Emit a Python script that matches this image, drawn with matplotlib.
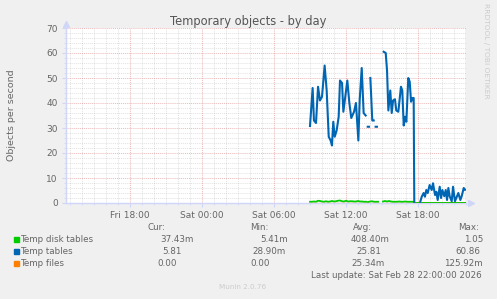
import numpy as np
import matplotlib
matplotlib.use('Agg')
import matplotlib.pyplot as plt
from matplotlib.patches import Rectangle

W, H = 497, 299
nan = np.nan

# hours relative to Sat 00:00
tables_t = [9.00, 9.22, 9.33, 9.50, 9.67, 9.83, 10.00, 10.22, 10.39, 10.56, 10.72, 10.83,
            10.94, 11.06, 11.22, 11.39, 11.50, 11.67, 11.78, 11.94, 12.11, 12.28, 12.44,
            12.67, 12.83, 13.03, 13.14, 13.31, 13.47, 13.64, 13.72, 13.81, 13.92, 13.97,
            14.03, 14.19, 14.31, 14.40, 14.47, 14.58, 14.70, 15.14, 15.31, 15.42, 15.53,
            15.69, 15.81, 15.92, 16.08, 16.19, 16.36, 16.58, 16.69, 16.81, 16.92, 17.03,
            17.19, 17.31, 17.42, 17.53, 17.64, 17.69, 17.80, 18.19, 18.31, 18.47, 18.58,
            18.69, 18.81, 18.97, 19.14, 19.25, 19.42, 19.53, 19.64, 19.81, 19.92, 20.03,
            20.19, 20.31, 20.42, 20.53, 20.64, 20.81, 20.92, 21.08, 21.25, 21.36, 21.53,
            21.64, 21.81, 21.92]
tables_v = [30.8, 46, 33, 32, 46.5, 41, 42.5, 55, 45, 26.5, 25, 23,
            32.5, 26.5, 29, 34.5, 49, 48, 36.5, 42.5, 49, 40, 34,
            36.5, 40, 25, 41, 54, 36, 35, nan, 30.5, 30.5, nan,
            50, 33, 33, nan, 30.5, 30.5, nan, 60.5, 60, 53, 37,
            45, 36, 41, 41.5, 37, 36.5, 46.5, 45, 31, 34.5, 32.5,
            50, 48.5, 40.5, 42, 42, 0, nan, 0.5, 2.5, 4, 2.5,
            5.2, 4, 7.2, 5.2, 7.9, 3.2, 4.5, 1.2, 6.5, 2, 5.2,
            2.7, 5.2, 1.2, 6, 2.7, 0.7, 6.5, 0.7, 2.7, 4, 1.2,
            2.7, 6, 5.3]

disk_t = [9.00, 9.17, 9.33, 9.50, 9.67, 9.83, 10.00, 10.17, 10.33, 10.50, 10.67, 10.83,
          11.00, 11.17, 11.33, 11.50, 11.67, 11.83, 12.00, 12.17, 12.33, 12.50, 12.67,
          12.83, 13.00, 13.17, 13.33, 13.50, 13.67, 13.75, 13.83, 14.00, 14.17, 14.33,
          14.50, 14.67, 14.80, 15.08, 15.25, 15.42, 15.58, 15.75, 15.92, 16.08, 16.25,
          16.42, 16.58, 16.75, 16.92, 17.08, 17.25, 17.42, 17.58, 17.75, 18.00, 19.00,
          20.00, 21.00, 22.00]
disk_v = [0.5, 0.5, 0.6, 0.5, 0.9, 0.8, 0.6, 0.5, 0.7, 0.5, 0.6, 0.8,
          0.6, 0.7, 0.9, 1.0, 0.7, 0.6, 0.9, 0.6, 0.7, 0.7, 0.6,
          0.6, 0.8, 0.6, 0.6, 0.5, 0.5, nan, 0.4, 0.6, 0.7, 0.5,
          0.5, 0.5, nan, 0.6, 0.8, 0.6, 0.8, 0.6, 0.5, 0.5, 0.5,
          0.6, 0.5, 0.5, 0.6, 0.5, 0.5, 0.5, 0.5, 0.05, 0.04, 0.04,
          0.04, 0.04, 0.04]

files_t = [9.0, 14.7, 14.9, 15.1, 22.0]
files_v = [0, 0, nan, 0, 0]

xticks = [-6, 0, 6, 12, 18]
xlabels = ['Fri 18:00', 'Sat 00:00', 'Sat 06:00', 'Sat 12:00', 'Sat 18:00']

names = ['Temp disk tables', 'Temp tables', 'Temp files']
colors = ['#00cc00', '#0066b3', '#ff8000']
cur = ['37.43m', '5.81', '0.00']
mins = ['5.41m', '28.90m', '0.00']
avgs = ['408.40m', '25.81', '25.34m']
maxs = ['1.05', '60.86', '125.92m']

FONT = '#666666'
AXIS = '#cfd6f8'

fig = plt.figure(figsize=(W / 100, H / 100), dpi=100)
fig.patch.set_facecolor('#f0f0f0')


def fx(x):
    return x / W


def fy(y):
    return 1 - y / H


ax = fig.add_axes([fx(66), fy(203), 400 / W, 175 / H])
ax.set_facecolor('white')
ax.set_xlim(-11.333, 22.0)
ax.set_ylim(0, 70)

ax.set_xticks(xticks)
ax.set_xticklabels(xlabels)
ax.set_xticks(np.arange(-11, 23, 1), minor=True)
ax.set_yticks(np.arange(0, 71, 10))
ax.set_yticks(np.arange(0, 71, 2), minor=True)
ax.grid(which='minor', color='#8c8c8c', alpha=0.25, linestyle=(0, (1, 1)), linewidth=0.7)
ax.grid(which='major', color='#e08a8a', alpha=0.6, linestyle=(0, (1, 1)), linewidth=0.7)
ax.set_axisbelow(True)

for s in ['top', 'right']:
    ax.spines[s].set_visible(False)
for s in ['left', 'bottom']:
    ax.spines[s].set_color(AXIS)
    ax.spines[s].set_linewidth(1.0)
ax.tick_params(which='both', colors=AXIS, labelcolor=FONT, labelsize=6.5, direction='out')
ax.tick_params(which='major', length=3, width=0.8)
ax.tick_params(which='minor', length=1.5, width=0.6)
ax.tick_params(axis='x', pad=3)
ax.tick_params(axis='y', pad=3)

# right frame line
ax.axvline(22.0, color='#999999', linewidth=0.9, ymax=1.0)

ax.plot(disk_t, disk_v, color=colors[0], linewidth=1.3, zorder=3)
ax.plot(tables_t, tables_v, color=colors[1], linewidth=1.5, zorder=4)
ax.plot(files_t, files_v, color=colors[2], linewidth=0.9, zorder=5)

# axis arrows
ax.plot([0], [1.025], marker='^', markersize=4, color=AXIS, transform=ax.transAxes, clip_on=False)
ax.plot([1.012], [0], marker='>', markersize=4, color=AXIS, transform=ax.transAxes, clip_on=False)

fig.text(fx(12), fy(115.5), 'Objects per second', rotation=90, ha='center', va='center',
         fontsize=6.8, color=FONT)

fig.text(fx(248), fy(21), 'Temporary objects - by day', ha='center', va='center',
         fontsize=8.3, color='#555555')
fig.text(fx(486), fy(51), 'RRDTOOL / TOBI OETIKER', rotation=270, ha='center', va='center',
         fontsize=5.4, color='#cccccc')

LS = 6.3
fig.text(fx(148), fy(227), 'Cur:', fontsize=LS, color=FONT, va='center')
fig.text(fx(250), fy(227), 'Min:', fontsize=LS, color=FONT, va='center')
fig.text(fx(353), fy(227), 'Avg:', fontsize=LS, color=FONT, va='center')
fig.text(fx(458), fy(227), 'Max:', fontsize=LS, color=FONT, va='center')

rows = [239, 251.5, 263.3]
cur_x = [160.7, 162, 157]
min_x = [260, 252.7, 250]
avg_x = [350.7, 356, 351.7]
max_r = [483, 480, 483]
for i, y in enumerate(rows):
    fig.patches.append(Rectangle((fx(14), fy(y + 2.5)), 5 / W, 5 / H,
                                 transform=fig.transFigure, color=colors[i]))
    fig.text(fx(20), fy(y), names[i], fontsize=LS, color=FONT, va='center')
    fig.text(fx(cur_x[i]), fy(y), cur[i], fontsize=LS, color=FONT, va='center')
    fig.text(fx(min_x[i]), fy(y), mins[i], fontsize=LS, color=FONT, va='center')
    fig.text(fx(avg_x[i]), fy(y), avgs[i], fontsize=LS, color=FONT, va='center')
    fig.text(fx(max_r[i]), fy(y), maxs[i], fontsize=LS, color=FONT, va='center', ha='right')

fig.text(fx(482), fy(275), 'Last update: Sat Feb 28 22:00:00 2026', fontsize=LS,
         color=FONT, va='center', ha='right')
fig.text(fx(243), fy(287), 'Munin 2.0.76', fontsize=5.2, color='#cccccc',
         va='center', ha='center')

fig.savefig('out.png', dpi=100, facecolor=fig.get_facecolor())
